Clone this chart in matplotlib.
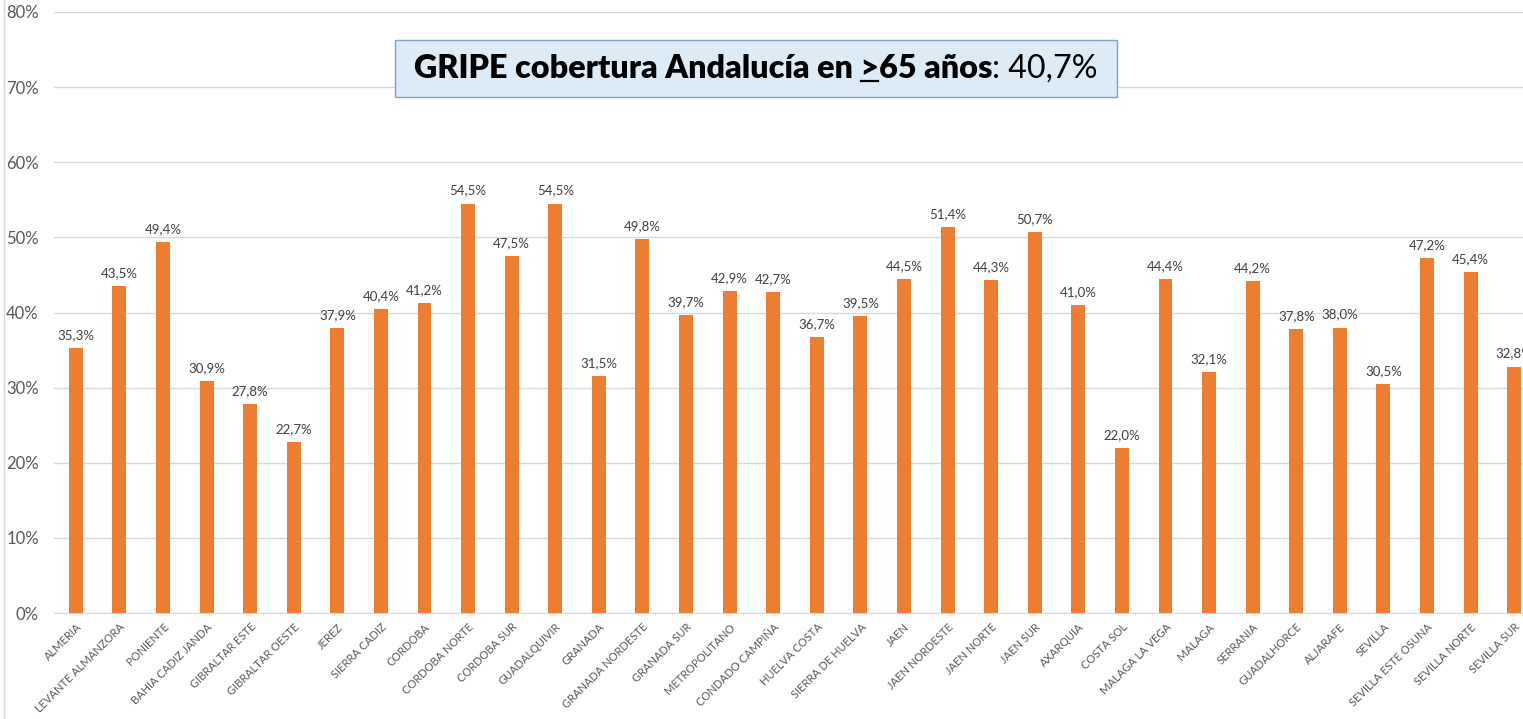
import matplotlib
matplotlib.use("Agg")
import matplotlib.pyplot as plt
from matplotlib.patches import Rectangle
from matplotlib.lines import Line2D

categories = ["ALMERIA", "LEVANTE ALMANZORA", "PONIENTE", "BAHIA CADIZ JANDA",
              "GIBRALTAR ESTE", "GIBRALTAR OESTE", "JEREZ", "SIERRA CADIZ", "CORDOBA",
              "CORDOBA NORTE", "CORDOBA SUR", "GUADALQUIVIR", "GRANADA", "GRANADA NORDESTE",
              "GRANADA SUR", "METROPOLITANO", "CONDADO CAMPIÑA", "HUELVA COSTA",
              "SIERRA DE HUELVA", "JAEN", "JAEN NORDESTE", "JAEN NORTE", "JAEN SUR",
              "AXARQUIA", "COSTA SOL", "MALAGA LA VEGA", "MALAGA", "SERRANIA",
              "GUADALHORCE", "ALJARAFE", "SEVILLA", "SEVILLA ESTE OSUNA", "SEVILLA NORTE",
              "SEVILLA SUR"]
values = [35.3, 43.5, 49.4, 30.9, 27.8, 22.7, 37.9, 40.4, 41.2, 54.5, 47.5, 54.5,
          31.5, 49.8, 39.7, 42.9, 42.7, 36.7, 39.5, 44.5, 51.4, 44.3, 50.7, 41.0,
          22.0, 44.4, 32.1, 44.2, 37.8, 38.0, 30.5, 47.2, 45.4, 32.8]
yticks = [0, 10, 20, 30, 40, 50, 60, 70, 80]
title_bold = "GRIPE cobertura Andalucía en >65 años"
title_rest = ": 40,7%"

FONT = ["Lato", "DejaVu Sans"]
plt.rcParams['font.family'] = FONT

W, H = 1523, 719
fig = plt.figure(figsize=(W / 100, H / 100), dpi=100)
fig.patch.set_facecolor("white")

ax = fig.add_axes([54 / W, (H - 613) / H, 1482 / W, (613 - 12) / H])
x = list(range(len(categories)))
ax.bar(x, values, width=0.32, color="#ED7D31", zorder=3)
ax.set_xlim(-0.5, len(categories) - 0.5)
ax.set_ylim(0, 80)
ax.set_yticks(yticks)
ax.set_yticklabels([f"{v}%" for v in yticks], fontsize=12, color="#595959")
ax.grid(axis="y", color="#D9D9D9", linewidth=1, zorder=0)
for s in ["top", "right", "left"]:
    ax.spines[s].set_visible(False)
ax.spines["bottom"].set_color("#D9D9D9")
ax.tick_params(axis="y", length=0, pad=11)
ax.tick_params(axis="x", length=0, pad=6)
ax.set_xticks(x)
ax.set_xticklabels(categories, rotation=45, ha="right", va="top",
                   rotation_mode="anchor", fontsize=8, color="#595959")

for xi, v in zip(x, values):
    ax.annotate(f"{v:.1f}%".replace(".", ","), (xi, v), xytext=(0, 5),
                textcoords="offset points", ha="center", va="bottom",
                fontsize=9.5, color="#404040", zorder=4, annotation_clip=False)

# left border line
fig.add_artist(Line2D([4 / W, 4 / W], [0, 1], color="#D9D9D9", linewidth=1,
                      transform=fig.transFigure))

# title box
bx0, bx1, by_top, by_bot = 395, 1117, 40, 97
fig.add_artist(Rectangle((bx0 / W, (H - by_bot) / H), (bx1 - bx0) / W, (by_bot - by_top) / H,
                         transform=fig.transFigure, facecolor="#DDEBF7",
                         edgecolor="#7F9FCF", linewidth=1, zorder=5))

fig.canvas.draw()
renderer = fig.canvas.get_renderer()
BW = "heavy"

def width_of(s, fs, weight):
    t = fig.text(0, 0, s, fontsize=fs, fontweight=weight)
    w = t.get_window_extent(renderer).width
    t.remove()
    return w

base_fs = 15
total = width_of(title_bold, base_fs, BW) + width_of(title_rest, base_fs, "normal")
fs = base_fs * 688 / total
wb = width_of(title_bold, fs, BW)
wr = width_of(title_rest, fs, "normal")
start = (bx0 + bx1) / 2 - (wb + wr) / 2
baseline = H - 78
fig.text(start / W, baseline / H, title_bold, fontsize=fs, fontweight=BW,
         ha="left", va="baseline", color="black", zorder=6)
fig.text((start + wb) / W, baseline / H, title_rest, fontsize=fs, fontweight="normal",
         ha="left", va="baseline", color="black", zorder=6)
# underline under ">"
gt_end = start + width_of(title_bold.split(">")[0] + ">", fs, BW)
gt_w = width_of(">", fs, BW)
fig.add_artist(Line2D([(gt_end - gt_w + 1) / W, (gt_end - 1) / W],
                      [(baseline - 3) / H, (baseline - 3) / H],
                      color="black", linewidth=1.6, transform=fig.transFigure, zorder=7))

fig.savefig("out.png", dpi=100)
